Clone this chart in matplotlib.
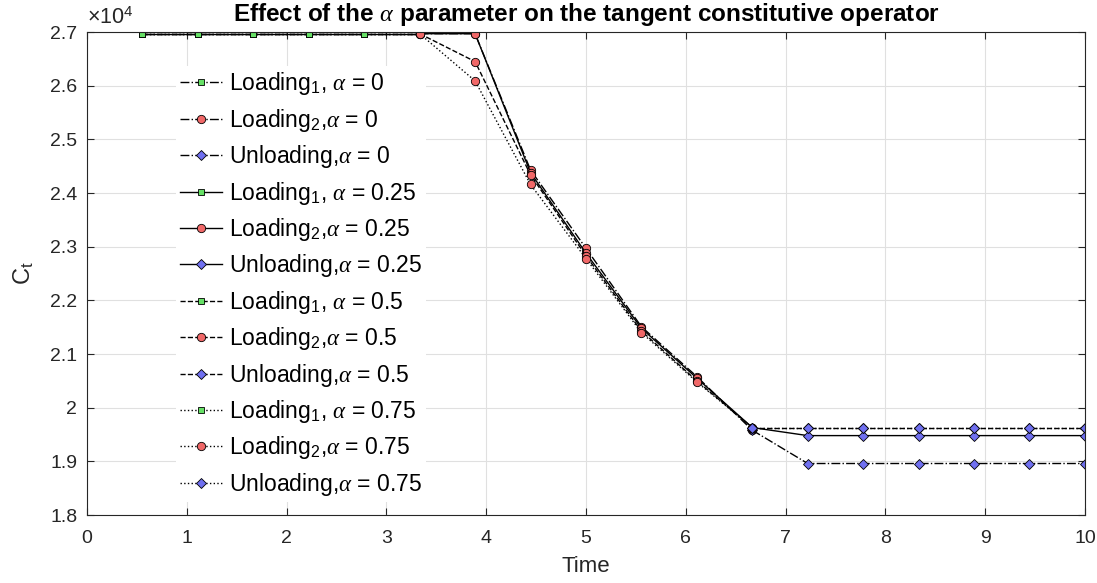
import matplotlib
matplotlib.use("Agg")
import matplotlib.pyplot as plt
from matplotlib.ticker import FuncFormatter, MultipleLocator

plt.rcParams["font.family"] = ["Liberation Sans", "DejaVu Sans"]
plt.rcParams["mathtext.fontset"] = "custom"
plt.rcParams["mathtext.rm"] = "Liberation Sans"
plt.rcParams["mathtext.it"] = "Liberation Serif:italic"
plt.rcParams["mathtext.bf"] = "Liberation Sans:bold"

# time steps (10 s split in 18 increments)
t_load1 = [0.5556, 1.1111, 1.6667, 2.2222, 2.7778, 3.3333]
t_load2 = [3.3333, 3.8889, 4.4444, 5.0, 5.5556, 6.1111, 6.6667]
t_unload = [6.6667, 7.2222, 7.7778, 8.3333, 8.8889, 9.4444, 10.0]

alphas = ["0", "0.25", "0.5", "0.75"]
styles = ["-.", "-", "--", ":"]

# tangent operator C_t per alpha
ct_load1 = [26970, 26970, 26970, 26970, 26970, 26970]
ct_load2 = {
    "0":    [26970, 26970, 24430, 22970, 21510, 20580, 19580],
    "0.25": [26970, 26970, 24380, 22880, 21480, 20550, 19630],
    "0.5":  [26970, 26450, 24340, 22830, 21430, 20500, 19630],
    "0.75": [26970, 26090, 24160, 22780, 21400, 20480, 19630],
}
ct_unload = {
    "0":    [19580, 18960, 18960, 18960, 18960, 18960, 18960],
    "0.25": [19630, 19480, 19480, 19480, 19480, 19480, 19480],
    "0.5":  [19630, 19630, 19630, 19630, 19630, 19630, 19630],
    "0.75": [19630, 19630, 19630, 19630, 19630, 19630, 19630],
}

green = "#66e066"
red = "#f06868"
blue = "#7070f0"

fig = plt.figure(figsize=(10.97, 5.83), dpi=100)
ax = fig.add_axes([0.0793, 0.1166, 0.9097, 0.8284])

for a, ls in zip(alphas, styles):
    ax.plot(t_load1, ct_load1, ls, color="black", lw=1.0, marker="s", ms=4.2,
            mfc=green, mec="black", mew=0.6,
            label=r"Loading$_{\mathrm{1}}$, $\alpha$ = " + a)
    ax.plot(t_load2, ct_load2[a], ls, color="black", lw=1.0, marker="o", ms=6,
            mfc=red, mec="black", mew=0.6,
            label=r"Loading$_{\mathrm{2}}$,$\alpha$ = " + a)
    ax.plot(t_unload, ct_unload[a], ls, color="black", lw=1.0, marker="D", ms=5.5,
            mfc=blue, mec="black", mew=0.6,
            label=r"Unloading,$\alpha$ = " + a)

ax.set_xlim(0, 10)
ax.set_ylim(18000, 27000)
ax.xaxis.set_major_locator(MultipleLocator(1))
ax.yaxis.set_major_locator(MultipleLocator(1000))
ax.yaxis.set_major_formatter(FuncFormatter(lambda v, p: f"{v / 1e4:g}"))
ax.grid(True, color="#e0e0e0", lw=0.8)
ax.set_axisbelow(True)
ax.tick_params(direction="in", length=5, top=True, right=True,
               labelsize=14, colors="#262626")
ax.tick_params(axis="x", pad=11)
ax.tick_params(axis="y", pad=7)
for s in ax.spines.values():
    s.set_color("#262626")
    s.set_linewidth(0.8)

ax.text(0.0, 1.006, r"$\times\mathrm{10}^{\mathrm{4}}$", transform=ax.transAxes,
        fontsize=15.5, color="#262626", ha="left", va="bottom")
ax.set_title(r"Effect of the $\alpha$ parameter on the tangent constitutive operator",
             fontsize=17.5, fontweight="bold", pad=8)
ax.set_xlabel("Time", fontsize=16, color="#262626", labelpad=6)
ax.set_ylabel(r"C$_{\mathrm{t}}$", fontsize=17, color="#262626", labelpad=10)

leg = ax.legend(loc="upper left", bbox_to_anchor=(0.089, 0.93), fontsize=16.5,
                frameon=True, edgecolor="none", facecolor="white", framealpha=1,
                handlelength=1.8, handletextpad=0.3, labelspacing=0.41,
                borderpad=0.2, borderaxespad=0)

fig.savefig("out.png", dpi=100)
